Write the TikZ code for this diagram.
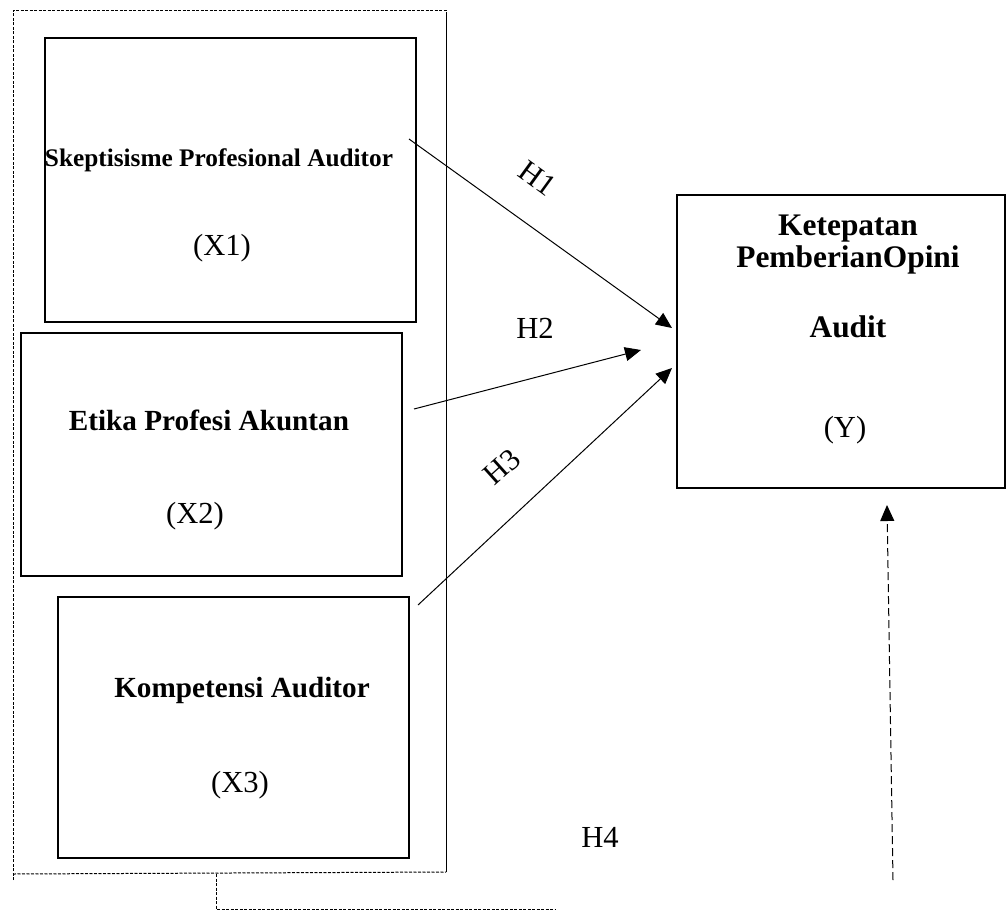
\documentclass[tikz,border=0pt]{standalone}
\usepackage{fontspec}
\setmainfont{Liberation Serif}
\usetikzlibrary{positioning}
\usetikzlibrary{arrows.meta,fit}
\tikzset{box/.style={draw, line width=0.65pt, inner sep=0pt}}
\tikzset{vname/.style={anchor=base, inner sep=0pt, font=\fontsize{14.6}{17}\selectfont\bfseries}}
\tikzset{vcode/.style={anchor=base, inner sep=0pt, font=\fontsize{15.3}{18}\selectfont}}
\tikzset{hyp/.style={inner sep=0pt, font=\fontsize{15.3}{18}\selectfont}}
\tikzset{link/.style={line width=0.5pt, -{Triangle[length=8pt,width=7pt]}}}
\tikzset{frame/.style={line width=0.5pt, dash pattern=on 1.5pt off 0.75pt}}

\begin{document}
\begin{tikzpicture}[x=0.5pt,y=-0.5pt]
\useasboundingbox (0,0) rectangle (1008,911);
% independent variables
\node[box, fit={(45,38) (416,322)}] (x1) {};
\node[vname, font=\fontsize{12.65}{15}\selectfont\bfseries] (x1name) at (219,166) {Skeptisisme Profesional Auditor};
\node[vcode] (x1code) at (222,255) {(X1)};
\node[box, fit={(21,333) (402,576)}] (x2) {};
\node[vname] (x2name) at (209,430) {Etika Profesi Akuntan};
\node[vcode] (x2code) at (195,523) {(X2)};
\node[box, fit={(58,597) (409,858)}] (x3) {};
\node[vname] (x3name) at (242,697) {Kompetensi Auditor};
\node[vcode] (x3code) at (240,792) {(X3)};
% dependent variable
\node[box, fit={(677,195) (1005,488)}] (y) {};
\node[vname, font=\fontsize{15.7}{18}\selectfont\bfseries] (yname1) at (848,235) {Ketepatan};
\node[vname, font=\fontsize{15.7}{18}\selectfont\bfseries] (yname2) at (848,267) {PemberianOpini};
\node[vname, font=\fontsize{15.7}{18}\selectfont\bfseries] (yname3) at (848,337) {Audit};
\node[vcode] (ycode) at (845,437) {(Y)};
% frame round X1, X2, X3
\draw[frame] (13,880) -- (13,10) -- (448,10);
\draw[line width=0.45pt] (446,12) -- (446,872);
\draw[frame] (13,874) -- (446,872);
% hypotheses
\coordinate (h1s) at (409,139);
\coordinate (h1e) at (672,328);
\coordinate (h2s) at (414,409);
\coordinate (h2e) at (641,350);
\coordinate (h3s) at (418,605);
\coordinate (h3e) at (672,368);
\draw[link] (h1s) -- (h1e);
\draw[link] (h2s) -- (h2e);
\draw[link] (h3s) -- (h3e);
\node[hyp, rotate=-36] (h1) at (538,178) {H1};
\node[hyp, anchor=base] (h2) at (535,338) {H2};
\node[hyp, rotate=42] (h3) at (502,467) {H3};
\node[hyp, anchor=base] (h4) at (600,847) {H4};
% simultaneous
\coordinate (h4a) at (216,874);
\coordinate (h4b) at (216,909);
\coordinate (h4c) at (555,909);
\coordinate (h4s) at (893,880);
\coordinate (h4e) at (887,505);
\draw[frame] (h4a) -- (h4b) -- (h4c);
\draw[line width=0.5pt, dash pattern=on 4pt off 2pt, -{Triangle[length=8pt,width=7pt]}] (h4s) -- (h4e);
\end{tikzpicture}
\end{document}
